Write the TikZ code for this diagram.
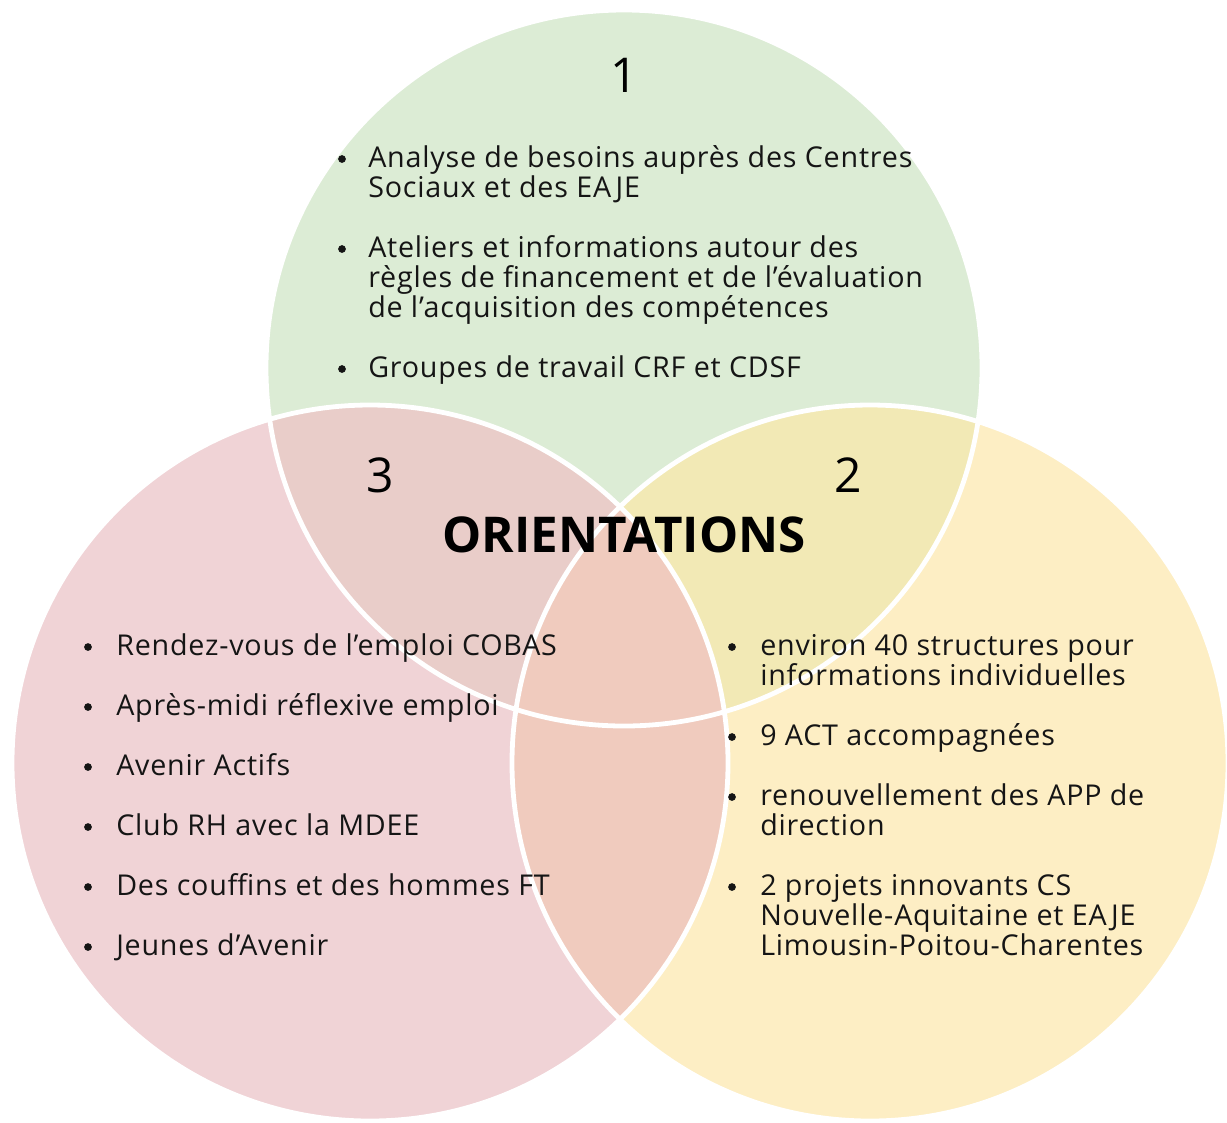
\documentclass[tikz,border=0pt]{standalone}
\usepackage{fontspec}
\setmainfont{Open Sans}
\definecolor{cg}{HTML}{DCECD5}
\definecolor{cp}{HTML}{F0D3D6}
\definecolor{cy}{HTML}{FDEEC4}
\definecolor{c13}{HTML}{E9CDC9}
\definecolor{c12}{HTML}{F2E9B5}
\definecolor{c23}{HTML}{F0CBBE}
\definecolor{txt}{HTML}{151515}
\begin{document}
\begin{tikzpicture}[x=0.75pt,y=-0.75pt,
  item/.style={anchor=base west, align=left, inner sep=0pt, text=txt,
    font=\fontsize{21.5}{22.5}\selectfont\addfontfeature{LetterSpace=2.8}},
  bul/.style={circle, fill=txt, inner sep=0pt, minimum size=5.8pt},
  num/.style={text=black, font=\fontsize{36}{40}\selectfont},
  ring/.style={draw=white, line width=3.6pt}]
\useasboundingbox (0,0) rectangle (1227,1122);
\coordinate (C1) at (624,368);
\coordinate (C2) at (870,763);
\coordinate (C3) at (370,763);
% base fills
\fill[cg] (C1) circle[radius=268.5pt];
\fill[cy] (C2) circle[radius=268.5pt];
\fill[cp] (C3) circle[radius=268.5pt];
% overlaps
\begin{scope}
  \clip (C1) circle[radius=268.5pt];
  \fill[c13] (C3) circle[radius=268.5pt];
  \fill[c12] (C2) circle[radius=268.5pt];
\end{scope}
\begin{scope}
  \clip (C3) circle[radius=268.5pt];
  \fill[c23] (C2) circle[radius=268.5pt];
\end{scope}
% white outlines
\draw[ring] (C1) circle[radius=268.5pt];
\draw[ring] (C2) circle[radius=268.5pt];
\draw[ring] (C3) circle[radius=268.5pt];
% numbers and title
\node[num] (n1) at (624,75) {1};
\node[num] (n3) at (380,475) {3};
\node[num] (n2) at (848,475) {2};
\node[text=black, font=\bfseries\fontsize{37}{40}\selectfont] (title) at (624,535) {ORIENTATIONS};
% circle 1 items (anchored at the baseline of the last line)
\node[bul] (b11) at (342,159) {};
\node[item] (t11) at (368,197) {Analyse de besoins auprès des Centres\\Sociaux et des EAJE};
\node[bul] (b12) at (342,249) {};
\node[item] (t12) at (368,317) {Ateliers et informations autour des\\règles de financement et de l’évaluation\\de l’acquisition des compétences};
\node[bul] (b13) at (342,369) {};
\node[item] (t13) at (368,377) {Groupes de travail CRF et CDSF};
% circle 3 items
\foreach \y/\t [count=\i] in {655/{Rendez-vous de l’emploi COBAS},715/{Après-midi réflexive emploi},775/{Avenir Actifs},835/{Club RH avec la MDEE},895/{Des couffins et des hommes FT},955/{Jeunes d’Avenir}}{
  \node[bul] (b3\i) at (88,\y-8) {};
  \node[item] (t3\i) at (116,\y) {\t};
}
% circle 2 items
\node[bul] (b21) at (732,647) {};
\node[item] (t21) at (760,685) {environ 40 structures pour\\informations individuelles};
\node[bul] (b22) at (732,737) {};
\node[item] (t22) at (760,745) {9 ACT accompagnées};
\node[bul] (b23) at (732,797) {};
\node[item] (t23) at (760,835) {renouvellement des APP de\\direction};
\node[bul] (b24) at (732,887) {};
\node[item] (t24) at (760,955) {2 projets innovants CS\\Nouvelle-Aquitaine et EAJE\\Limousin-Poitou-Charentes};
\end{tikzpicture}
\end{document}
